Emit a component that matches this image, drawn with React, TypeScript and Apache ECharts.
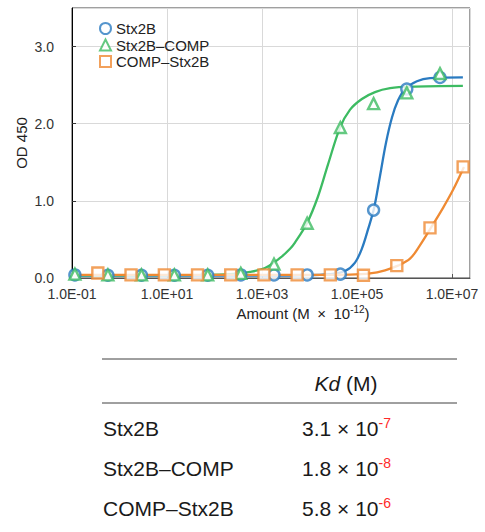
import React, { useEffect, useRef } from 'react';
import * as echarts from 'echarts';

// ---- data ----
const seriesNames = ['Stx2B', 'Stx2B–COMP', 'COMP–Stx2B'];
const seriesColors = ['#2a7bc1', '#3dbb62', '#ef8a33'];

// amounts in M × 10^-12 (pM)
const stx2bAmount = [0.115, 0.57, 2.9, 14.3, 72, 358, 1790, 8950, 44700, 224000, 1.12e6, 5.6e6];
const stx2bOD = [0.04, 0.035, 0.035, 0.035, 0.035, 0.04, 0.04, 0.04, 0.05, 0.88, 2.45, 2.6];

const stx2bCompAmount = [0.115, 0.57, 2.9, 14.3, 72, 358, 1790, 8950, 44700, 224000, 1.12e6, 5.6e6];
const stx2bCompOD = [0.05, 0.04, 0.04, 0.04, 0.04, 0.06, 0.18, 0.71, 1.95, 2.26, 2.4, 2.65];

const compStx2bAmount = [0.35, 1.75, 8.8, 44, 220, 1100, 5500, 27500, 137000, 690000, 3.45e6, 1.72e7];
const compStx2bOD = [0.065, 0.04, 0.04, 0.04, 0.04, 0.04, 0.04, 0.04, 0.035, 0.16, 0.65, 1.44];

// fitted curves [amount, OD]
const stx2bFit: [number, number][] = [
  [0.1, 0.03], [1000, 0.03], [6300, 0.035], [27000, 0.05], [56000, 0.09], [91000, 0.2],
  [127000, 0.38], [171000, 0.63], [228000, 0.9], [305000, 1.32], [408000, 1.75],
  [546000, 2.08], [730000, 2.3], [1.03e6, 2.45], [1.83e6, 2.55], [3.44e6, 2.59], [1.7e7, 2.6],
];
const stx2bCompFit: [number, number][] = [
  [0.1, 0.035], [4.4, 0.036], [50, 0.04], [210, 0.05], [560, 0.08], [1160, 0.13],
  [2400, 0.26], [3900, 0.38], [4950, 0.46], [8860, 0.71], [15000, 1.05], [24500, 1.47],
  [44000, 1.95], [71000, 2.18], [127000, 2.32], [240000, 2.41], [500000, 2.46],
  [1.3e6, 2.48], [1.7e7, 2.49],
];
const compStx2bFit: [number, number][] = [
  [0.1, 0.04], [5000, 0.04], [71000, 0.045], [188000, 0.06], [390000, 0.1], [730000, 0.16],
  [1.31e6, 0.25], [2.1e6, 0.42], [3.44e6, 0.63], [6.5e6, 0.91], [1.05e7, 1.14], [1.79e7, 1.44],
];

const yTickInterval = 1;
const yMin = 0;
const yMax = 3.5;
const xMin = 0.1;
const xMax = 2.4e7;

// table
const tableHeaderUnit = ' (M)';
const tableRowNames = ['Stx2B', 'Stx2B–COMP', 'COMP–Stx2B'];
const kdMantissa = ['3.1', '1.8', '5.8'];
const kdExponent = ['-7', '-8', '-6'];

const FONT = '"Liberation Sans", Arial, Helvetica, sans-serif';

function sciLabel(v: number): string {
  const e = Math.round(Math.log10(v));
  return '1.0E' + (e < 0 ? '-' : '+') + String(Math.abs(e)).padStart(2, '0');
}

function pairs(xs: number[], ys: number[]): [number, number][] {
  return xs.map((x, i) => [x, ys[i]]);
}

export default function App() {
  const ref = useRef<HTMLDivElement>(null);

  useEffect(() => {
    if (!ref.current) return;
    const chart = echarts.init(ref.current, undefined, { renderer: 'svg' });

    const symbols = ['circle', 'triangle', 'rect'];
    const symbolSizes = [11, 11, 11];
    const pointSets = [
      pairs(stx2bAmount, stx2bOD),
      pairs(stx2bCompAmount, stx2bCompOD),
      pairs(compStx2bAmount, compStx2bOD),
    ];
    const fits = [stx2bFit, stx2bCompFit, compStx2bFit];

    const lineSeries = fits.map((d, i) => ({
      type: 'line',
      name: seriesNames[i] + ' fit',
      data: d,
      smooth: 0.35,
      showSymbol: false,
      symbol: 'none',
      lineStyle: { color: seriesColors[i], width: 2.3 },
      z: 2,
    }));
    const scatterSeries = pointSets.map((d, i) => ({
      type: 'scatter',
      name: seriesNames[i],
      data: d,
      symbol: symbols[i],
      symbolSize: symbolSizes[i],
      itemStyle: { color: '#ffffff', borderColor: seriesColors[i], borderWidth: 2.4 },
      z: 3,
    }));

    const rowYs = [428, 468, 508];
    const tableGraphics: any[] = [
      { type: 'line', shape: { x1: 102, y1: 359, x2: 457, y2: 359 }, style: { stroke: '#404040', lineWidth: 1 } },
      { type: 'line', shape: { x1: 102, y1: 403, x2: 457, y2: 403 }, style: { stroke: '#404040', lineWidth: 1 } },
      {
        type: 'text', x: 346, y: 383,
        style: {
          text: '{i|Kd}{n|' + tableHeaderUnit + '}',
          align: 'center', verticalAlign: 'middle',
          rich: {
            i: { fontFamily: FONT, fontSize: 21, fontStyle: 'italic', fill: '#1a1a1a' },
            n: { fontFamily: FONT, fontSize: 21, fill: '#1a1a1a' },
          },
        },
      },
    ];
    tableRowNames.forEach((name, i) => {
      tableGraphics.push({
        type: 'text', x: 103, y: rowYs[i],
        style: { text: name, fontFamily: FONT, fontSize: 21, fill: '#1a1a1a', align: 'left', verticalAlign: 'middle' },
      });
      tableGraphics.push({
        type: 'text', x: 302, y: rowYs[i],
        style: {
          text: '{m|' + kdMantissa[i] + ' × 10}{s|' + kdExponent[i] + '}',
          align: 'left', verticalAlign: 'middle',
          rich: {
            m: { fontFamily: FONT, fontSize: 21, lineHeight: 24, fill: '#1a1a1a' },
            s: { fontFamily: FONT, fontSize: 14, lineHeight: 13, fill: '#ff2a2a', verticalAlign: 'top' },
          },
        },
      });
    });

    const option: any = {
      animation: false,
      backgroundColor: '#ffffff',
      textStyle: { fontFamily: FONT },
      grid: {
        left: 72, right: 15, top: 8, bottom: 254,
        containLabel: false,
        outerBoundsMode: 'none',
        show: true,
        borderColor: '#404040',
        borderWidth: 1,
        backgroundColor: 'transparent',
      },
      legend: {
        data: seriesNames,
        orient: 'vertical',
        left: 94,
        top: 16,
        itemWidth: 11,
        itemHeight: 11,
        itemGap: 1.5,
        textStyle: { fontFamily: FONT, fontSize: 15, color: '#222' },
        selectedMode: false,
      },
      xAxis: {
        type: 'log',
        logBase: 10,
        min: xMin,
        max: xMax,
        interval: 2,
        axisLine: { show: true, onZero: false, lineStyle: { color: '#555', width: 1 } },
        axisTick: { show: true, inside: true, length: 4, lineStyle: { color: '#555' } },
        minorTick: { show: false },
        splitLine: { show: true, lineStyle: { color: '#d9d9d9', width: 1 } },
        axisLabel: {
          formatter: (v: number) => sciLabel(v),
          fontSize: 14, color: '#333', margin: 9, fontFamily: FONT,
          showMaxLabel: false,
        },
      },
      yAxis: {
        type: 'value',
        min: yMin,
        max: yMax,
        interval: yTickInterval,
        axisLine: { show: true, lineStyle: { color: '#000', width: 1 } },
        axisTick: { show: true, inside: true, length: 4, lineStyle: { color: '#333' } },
        splitLine: { show: true, lineStyle: { color: '#d9d9d9', width: 1 } },
        axisLabel: {
          formatter: (v: number) => v.toFixed(1),
          fontSize: 14, color: '#333', margin: 18, fontFamily: FONT,
          showMaxLabel: false,
        },
      },
      graphic: [
        {
          type: 'text', x: 21, y: 143, rotation: Math.PI / 2,
          style: { text: 'OD 450', fontFamily: FONT, fontSize: 15, fill: '#222', align: 'center', verticalAlign: 'middle' },
        },
        {
          type: 'text', x: 303, y: 313,
          style: {
            text: '{n|Amount (M\u2002×\u200210}{s|-12}{n|)}',
            align: 'center', verticalAlign: 'middle',
            rich: {
              n: { fontFamily: FONT, fontSize: 15, lineHeight: 18, fill: '#222' },
              s: { fontFamily: FONT, fontSize: 10, lineHeight: 11, fill: '#222', verticalAlign: 'top' },
            },
          },
        },
        ...tableGraphics,
      ],
      series: [...lineSeries, ...scatterSeries],
    };

    chart.setOption(option);
    return () => chart.dispose();
  }, []);

  return (
    <div
      ref={ref}
      style={{ position: 'fixed', left: 0, top: 0, width: 485, height: 532, background: '#fff' }}
    />
  );
}
